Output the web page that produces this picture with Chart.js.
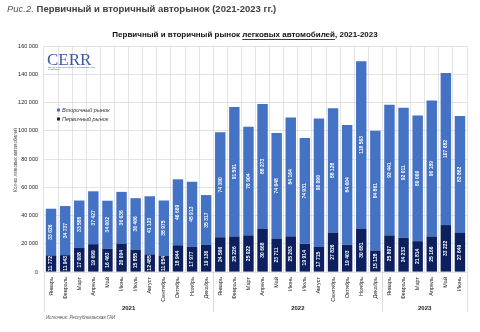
<!DOCTYPE html>
<html><head><meta charset="utf-8">
<script src="https://cdn.jsdelivr.net/npm/chart.js@4"></script>
<style>html,body{margin:0;padding:0;background:#fff}#w{width:480px;height:332px;position:relative}</style>
</head><body><div id="w"><canvas id="c" width="480" height="332"></canvas></div>
<script>
const months = ['Январь','Февраль','Март','Апрель','Май','Июнь','Июль','Август','Сентябрь','Октябрь','Ноябрь','Декабрь',
'Январь','Февраль','Март','Апрель','Май','Июнь','Июль','Август','Сентябрь','Октябрь','Ноябрь','Декабрь',
'Январь','Февраль','Март','Апрель','Май','Июнь'];
const categoryYears = ['2021','2021','2021','2021','2021','2021','2021','2021','2021','2021','2021','2021',
'2022','2022','2022','2022','2022','2022','2022','2022','2022','2022','2022','2022',
'2023','2023','2023','2023','2023','2023'];
const primaryMarket = [11772,11943,17008,19699,16463,20094,15855,12485,11654,18944,17977,19136,
24596,25226,25922,30668,23711,25263,19914,17715,27826,19403,30681,15128,
25897,24233,21814,25166,33222,27649];
const secondaryMarket = [33026,34737,33588,37427,34002,36636,36406,41123,38975,46669,45913,35317,
74300,91591,76904,88273,74648,84164,74931,90990,88128,84604,118563,84861,
92441,92011,89000,96189,107682,82862];
const yTicks = [0,20000,40000,60000,80000,100000,120000,140000,160000];

const FONT = "'Liberation Sans', Arial, sans-serif";
const fmt = v => String(Math.round(v)).replace(/\B(?=(\d{3})+(?!\d))/g, ' ');

const decor = {
  id: 'decor',
  afterDatasetsDraw(chart) {
    const ctx = chart.ctx;
    ctx.save();
    ctx.fillStyle = '#ffffff';
    ctx.font = 'bold 5px ' + FONT;
    ctx.textAlign = 'center';
    ctx.textBaseline = 'middle';
    chart.data.datasets.forEach((ds, di) => {
      const meta = chart.getDatasetMeta(di);
      meta.data.forEach((el, i) => {
        const cy = (el.y + el.base) / 2;
        ctx.save();
        ctx.translate(el.x, cy);
        ctx.rotate(-Math.PI / 2);
        ctx.fillText(fmt(ds.data[i]), 0, 0);
        ctx.restore();
      });
    });
    ctx.restore();
  },
  afterDraw(chart) {
    const ctx = chart.ctx, ca = chart.chartArea, xs = chart.scales.x;
    ctx.save();
    // caption
    ctx.textBaseline = 'middle';
    ctx.textAlign = 'left';
    ctx.fillStyle = '#595959';
    ctx.font = 'italic 9.5px ' + FONT;
    ctx.fillText('Рис.2.', 7, 9);
    let w = ctx.measureText('Рис.2. ').width;
    ctx.fillStyle = '#404040';
    ctx.font = 'bold 9.5px ' + FONT;
    ctx.fillText('Первичный и вторичный авторынок (2021-2023 гг.)', 7 + w, 9);
    // chart title with underline
    ctx.fillStyle = '#111';
    ctx.font = 'bold 8px ' + FONT;
    const p1 = 'Первичный и вторичный рынок ', p2 = 'легковых автомобилей', p3 = ', 2021-2023';
    const w1 = ctx.measureText(p1).width, w2 = ctx.measureText(p2).width, w3 = ctx.measureText(p3).width;
    let x0 = 245 - (w1 + w2 + w3) / 2;
    ctx.fillText(p1, x0, 35);
    ctx.fillText(p2, x0 + w1, 35);
    ctx.fillText(p3, x0 + w1 + w2, 35);
    ctx.fillRect(x0 + w1, 39, w2, 0.8);
    // year groups
    const groups = [];
    categoryYears.forEach((y, i) => {
      if (!groups.length || groups[groups.length - 1].y !== y) groups.push({y, s: i, e: i});
      else groups[groups.length - 1].e = i;
    });
    const half = (xs.getPixelForValue(1) - xs.getPixelForValue(0)) / 2;
    ctx.strokeStyle = '#d9d9d9';
    ctx.lineWidth = 0.8;
    ctx.fillStyle = '#222';
    ctx.font = 'bold 6px ' + FONT;
    ctx.textAlign = 'center';
    groups.forEach((g, gi) => {
      const l = xs.getPixelForValue(g.s) - half, r = xs.getPixelForValue(g.e) + half;
      [l, r].forEach(xx => {
        ctx.beginPath(); ctx.moveTo(Math.round(xx) + 0.5, ca.bottom); ctx.lineTo(Math.round(xx) + 0.5, 312); ctx.stroke();
      });
      ctx.fillText(g.y, (l + r) / 2, 308);
    });
    // source
    ctx.textAlign = 'left';
    ctx.fillStyle = '#555';
    ctx.font = 'italic 4.5px ' + FONT;
    ctx.fillText('Источник: Республиканская ГАИ', 46, 318);
    // legend
    const items = [['Вторичный рынок', '#4472c4'], ['Первичный рынок', '#0c1f5e']];
    ctx.font = 'italic 5.5px ' + FONT;
    items.forEach((it, k) => {
      const yy = 110 + k * 9;
      ctx.fillStyle = it[1];
      ctx.fillRect(57, yy - 1.5, 3, 3);
      ctx.fillStyle = '#333';
      ctx.fillText(it[0], 62, yy);
    });
    // logo
    ctx.fillStyle = '#3a5aa6';
    ctx.font = '17px "Liberation Serif", "Times New Roman", serif';
    ctx.textBaseline = 'alphabetic';
    ctx.fillText('CERR', 47, 65);
    ctx.font = '2.2px ' + FONT;
    ctx.fillText('ЦЕНТР ЭКОНОМИЧЕСКИХ ИССЛЕДОВАНИЙ', 48, 67.5);
    ctx.fillText('И РЕФОРМ', 48, 69.5);
    // y title
    ctx.save();
    ctx.translate(16, 160);
    ctx.rotate(-Math.PI / 2);
    ctx.textAlign = 'center';
    ctx.textBaseline = 'middle';
    ctx.fillStyle = '#444';
    ctx.font = '4.5px ' + FONT;
    ctx.fillText('Кол-во легковых автомобилей', 0, 0);
    ctx.restore();
    ctx.restore();
  }
};

new Chart(document.getElementById('c'), {
  type: 'bar',
  data: {
    labels: months,
    datasets: [
      {label: 'Первичный рынок', data: primaryMarket, backgroundColor: '#0c1f5e', barPercentage: 0.74, categoryPercentage: 1},
      {label: 'Вторичный рынок', data: secondaryMarket, backgroundColor: '#4472c4', barPercentage: 0.74, categoryPercentage: 1}
    ]
  },
  options: {
    responsive: false,
    animation: false,
    devicePixelRatio: 1,
    layout: {padding: {top: 46, right: 13, left: 0, bottom: 0}},
    plugins: {legend: {display: false}, tooltip: {enabled: false}, title: {display: false}},
    scales: {
      x: {
        stacked: true,
        grid: {color: '#dcdcdc', lineWidth: 0.8, offset: true, drawTicks: false},
        border: {display: false},
        ticks: {minRotation: 90, maxRotation: 90, autoSkip: false, padding: 5, color: '#222', font: {size: 5.5, family: FONT}},
        afterFit: s => { s.height = 60; }
      },
      y: {
        stacked: true,
        min: 0, max: 160000,
        afterBuildTicks: s => { s.ticks = yTicks.map(v => ({value: v})); },
        grid: {color: '#dcdcdc', lineWidth: 0.8, drawTicks: false},
        border: {display: false},
        ticks: {padding: 6, color: '#222', font: {size: 5.5, family: FONT}, callback: v => fmt(v)},
        afterFit: s => { s.width = 44; }
      }
    }
  },
  plugins: [decor]
});
</script>
</body></html>
